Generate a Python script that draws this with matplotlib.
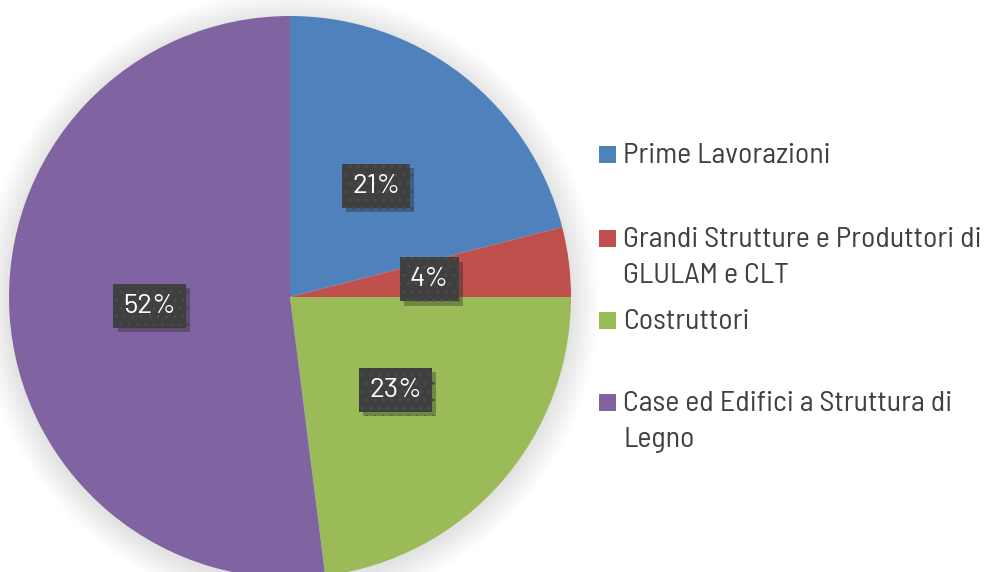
import matplotlib
matplotlib.use("Agg")
import matplotlib.pyplot as plt
from matplotlib.patches import Rectangle, Circle
import matplotlib.patheffects as pe

categories = ["Prime Lavorazioni",
              "Grandi Strutture e Produttori di\nGLULAM e CLT",
              "Costruttori",
              "Case ed Edifici a Struttura di\nLegno"]
values = [21, 4, 23, 52]
colors = ["#4F81BD", "#C0504D", "#9BBB59", "#8064A2"]

LEG_FONT = ["Barlow Semi Condensed", "Lato", "DejaVu Sans"]
LBL_FONT = ["Barlow", "Lato", "DejaVu Sans"]
W, H = 995, 572
fig = plt.figure(figsize=(W / 100, H / 100), dpi=100)
ax = fig.add_axes([0, 0, 1, 1])

cx, cy, R = 290, H - 297, 281

# soft shadow around the pie
for k in range(28):
    ax.add_patch(Circle((cx, cy - 3), R + 28 - k, color="black", alpha=0.0045, lw=0, zorder=0))

wedges, texts, autotexts = ax.pie(
    values, colors=colors, startangle=90, counterclock=False,
    center=(cx, cy), radius=R, autopct="%1.0f%%", pctdistance=0.5,
    wedgeprops=dict(linewidth=0),
    textprops=dict(color="white", fontsize=20, family=LBL_FONT, weight="normal"))
for w in wedges:
    w.set_zorder(2)
for t in autotexts:
    t.set_zorder(5)
    t.set_bbox(dict(boxstyle="square,pad=0.36", facecolor="#404040", edgecolor="#4b4b4b",
                    linewidth=0, hatch=".."))
    t.get_bbox_patch().set_path_effects(
        [pe.SimplePatchShadow(offset=(3, -3), alpha=0.3), pe.Normal()])

# legend (Excel-like layout)
first_baseline = [163, 247, 329, 411]
line_step = 36
for lab, col, y0 in zip(categories, colors, first_baseline):
    ax.add_patch(Rectangle((599, H - y0), 17, 17, color=col, lw=0))
    for i, line in enumerate(lab.split("\n")):
        ax.text(623, H - (y0 + i * line_step), line, ha="left", va="baseline",
                fontsize=21.5, color="#404040", family=LEG_FONT, weight="normal")

ax.set_xlim(0, W)
ax.set_ylim(0, H)
ax.set_aspect("equal")
ax.axis("off")
fig.savefig("out.png", dpi=100)
